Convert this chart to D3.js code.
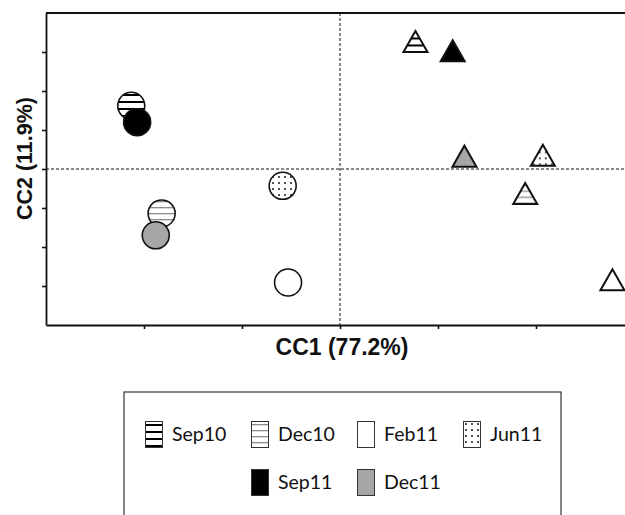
<!DOCTYPE html>
<html>
<head>
<meta charset="utf-8">
<script src="https://cdnjs.cloudflare.com/ajax/libs/d3/7.8.5/d3.min.js"></script>
<style>
  html, body { margin: 0; padding: 0; background: #fff; }
  svg { display: block; }
</style>
</head>
<body>
<svg id="chart" width="625" height="515"></svg>
<script>
// Sampling periods and their canonical correspondence scores
const periods = ["Sep10", "Dec10", "Feb11", "Jun11", "Sep11", "Dec11"];
// circle group scores
const circleCC1 = [-2.13, -1.82, -0.53, -0.585, -2.07, -1.88];
const circleCC2 = [1.62, -1.14, -2.91, -0.43, 1.20, -1.70];
// triangle group scores
const triangleCC1 = [0.77, 1.89, 2.78, 2.07, 1.15, 1.27];
const triangleCC2 = [3.27, -0.63, -2.84, 0.35, 3.03, 0.33];
// axis tick positions
const xTicks = [-2, -1, 0, 1, 2];
const yTicks = [-3, -2, -1, 0, 1, 2, 3];
const xTitle = "CC1 (77.2%)";
const yTitle = "CC2 (11.9%)";

const fills = {
  Sep10: "url(#stripeBlack)",
  Dec10: "url(#stripeGray)",
  Feb11: "#ffffff",
  Jun11: "url(#dots)",
  Sep11: "#000000",
  Dec11: "#a6a6a6"
};

const svg = d3.select("#chart");
const defs = svg.append("defs");

// pattern fills
const pBlack = defs.append("pattern").attr("id", "stripeBlack")
  .attr("patternUnits", "userSpaceOnUse").attr("width", 8).attr("height", 7);
pBlack.append("rect").attr("width", 8).attr("height", 7).attr("fill", "#fff");
pBlack.append("rect").attr("y", 3).attr("width", 8).attr("height", 2).attr("fill", "#000");

const pGray = defs.append("pattern").attr("id", "stripeGray")
  .attr("patternUnits", "userSpaceOnUse").attr("width", 8).attr("height", 6);
pGray.append("rect").attr("width", 8).attr("height", 6).attr("fill", "#fff");
pGray.append("rect").attr("y", 3).attr("width", 8).attr("height", 1.3).attr("fill", "#8c8c8c");

const pDots = defs.append("pattern").attr("id", "dots")
  .attr("patternUnits", "userSpaceOnUse").attr("width", 6).attr("height", 6);
pDots.append("rect").attr("width", 6).attr("height", 6).attr("fill", "#fff");
pDots.append("circle").attr("cx", 3).attr("cy", 3).attr("r", 0.9).attr("fill", "#000");

const x = d3.scaleLinear().domain([-3, 3]).range([46, 634]);
const y = d3.scaleLinear().domain([-4, 4]).range([325, 13]);

// dashed zero lines
svg.append("line")
  .attr("x1", x(-3)).attr("x2", x(3)).attr("y1", y(0)).attr("y2", y(0))
  .attr("stroke", "#111").attr("stroke-width", 1).attr("stroke-dasharray", "3,2");
svg.append("line")
  .attr("x1", x(0)).attr("x2", x(0)).attr("y1", y(4)).attr("y2", y(-4))
  .attr("stroke", "#111").attr("stroke-width", 1).attr("stroke-dasharray", "3,2");

// frame top / right
svg.append("path")
  .attr("d", `M${x(-3)},${y(4)}H${x(3)}V${y(-4)}`)
  .attr("fill", "none").attr("stroke", "#111").attr("stroke-width", 1.8);

// axes
const gx = svg.append("g").attr("transform", `translate(0,${y(-4)})`)
  .call(d3.axisBottom(x).tickValues(xTicks).tickSize(4).tickSizeOuter(0).tickFormat(""));
const gy = svg.append("g").attr("transform", `translate(${x(-3)},0)`)
  .call(d3.axisLeft(y).tickValues(yTicks).tickSize(4).tickSizeOuter(0).tickFormat(""));
[gx, gy].forEach(g => {
  g.select(".domain").attr("stroke", "#111").attr("stroke-width", 1.8);
  g.selectAll(".tick line").attr("stroke", "#111").attr("stroke-width", 1.6);
});

// axis titles
svg.append("text")
  .attr("x", x(0) + 2).attr("y", 355)
  .attr("text-anchor", "middle")
  .attr("font-family", "Liberation Sans, Arial, sans-serif")
  .attr("font-weight", "bold").attr("font-size", 23)
  .attr("fill", "#111")
  .text(xTitle);
svg.append("text")
  .attr("transform", "translate(32,158.5) rotate(-90)")
  .attr("text-anchor", "middle")
  .attr("font-family", "Liberation Sans, Arial, sans-serif")
  .attr("font-weight", "bold").attr("font-size", 21.5)
  .attr("fill", "#111")
  .text(yTitle);

// circles
const circleData = periods.map((p, i) => ({ p, cx: circleCC1[i], cy: circleCC2[i] }));
svg.append("g").selectAll("circle").data(circleData).join("circle")
  .attr("cx", d => x(d.cx)).attr("cy", d => y(d.cy))
  .attr("r", 13.5)
  .attr("fill", d => fills[d.p])
  .attr("stroke", "#111").attr("stroke-width", 1.6);

// triangles (bbox-centred)
const triW = 24, triH = 21;
const triPath = `M0,${-triH / 2}L${triW / 2},${triH / 2}L${-triW / 2},${triH / 2}Z`;
const triData = periods.map((p, i) => ({ p, tx: triangleCC1[i], ty: triangleCC2[i] }));
svg.append("g").selectAll("path").data(triData).join("path")
  .attr("d", triPath)
  .attr("transform", d => `translate(${x(d.tx)},${y(d.ty)})`)
  .attr("fill", d => fills[d.p])
  .attr("stroke", "#111").attr("stroke-width", 2)
  .attr("stroke-linejoin", "miter");

// legend
svg.append("rect")
  .attr("x", 124).attr("y", 392).attr("width", 437).attr("height", 140)
  .attr("fill", "none").attr("stroke", "#333").attr("stroke-width", 1.2);

const legendItems = periods.map((p, i) => ({
  p,
  col: i < 4 ? i : i - 3,
  row: i < 4 ? 0 : 1
}));
const lg = svg.append("g").selectAll("g").data(legendItems).join("g")
  .attr("transform", d => `translate(${145 + d.col * 106},${421 + d.row * 48})`);
lg.append("rect")
  .attr("x", 0.5).attr("y", 0.5).attr("width", 17).attr("height", 26)
  .attr("fill", d => fills[d.p])
  .attr("stroke", "#333").attr("stroke-width", 1);
lg.append("text")
  .attr("x", 27).attr("y", 20)
  .attr("font-family", "Lato, 'Open Sans', sans-serif")
  .attr("font-size", 19.5)
  .attr("fill", "#111")
  .text(d => d.p);
</script>
</body>
</html>
